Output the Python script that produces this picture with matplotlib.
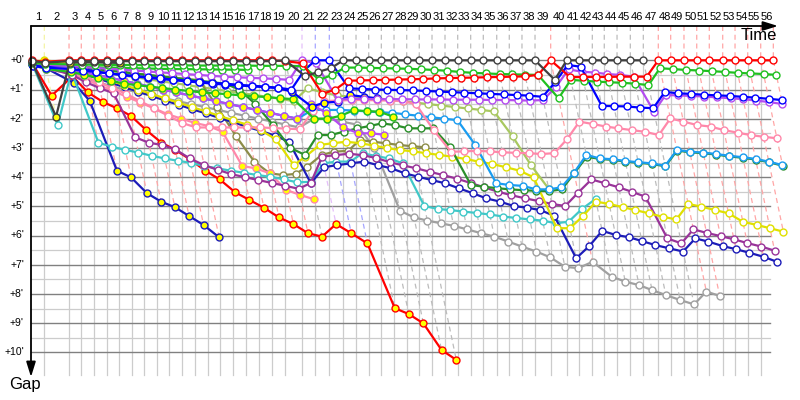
import matplotlib
matplotlib.use("Agg")
import matplotlib.pyplot as plt
from matplotlib.colors import to_rgb

# leader cumulative race time (minutes) at each lap, lap 0 = start
leader_time = [0.00, 2.08, 6.15, 8.17, 10.26, 12.36, 14.43, 16.47, 18.55, 20.59,
               22.67, 24.81, 26.90, 28.99, 31.07, 33.21, 35.35, 37.50, 39.59, 41.78,
               44.53, 46.72, 49.03, 51.33, 53.43, 55.52, 57.60, 59.69, 61.78, 63.85,
               65.95, 68.09, 70.18, 72.32, 74.40, 76.61, 78.68, 80.77, 82.92, 85.50,
               88.14, 90.21, 92.36, 94.33, 96.43, 98.62, 100.76, 103.23, 105.27, 107.46,
               109.56, 111.63, 113.84, 115.87, 117.96, 120.10, 122.18]
lap_labels = [str(i) for i in range(1, 57)]
gap_ticks = list(range(0, 11))

# gaps to leader (minutes), index = lap
red_1 = [0.00, 0.05] + [0.0] * 17 + [0.03, 0.10, 1.15, 1.00, 0.70, 0.69, 0.68, 0.67, 0.66, 0.65,
         0.64, 0.62, 0.61, 0.60, 0.59, 0.58, 0.57, 0.56, 0.55, 0.50, 0.00,
         0.58, 0.57, 0.57, 0.57, 0.56, 0.56, 0.56] + [0.0] * 10
dgray_1 = [0.02, 0.08] + [0.03] * 17 + [0.00, 0.55, 0.40, 0.27] + [0.0] * 16 + [0.67] + [0.0] * 7
dgray_2 = [0.05, 1.93, 0.08, 0.07, 0.07, 0.08, 0.09]
green_1 = [0.10, 0.12, 0.14, 0.15, 0.15, 0.16, 0.16, 0.16, 0.17, 0.17, 0.17, 0.17, 0.18, 0.18,
           0.18, 0.18, 0.18, 0.19, 0.19, 0.19, 0.20, 0.67, 0.50, 0.25, 0.25, 0.26, 0.27, 0.28,
           0.29, 0.31, 0.33, 0.36, 0.40, 0.43, 0.45, 0.47, 0.48, 0.49, 0.50, 1.30, 0.67, 0.70,
           0.73, 0.75, 0.77, 0.80, 0.85, 0.27, 0.30, 0.33, 0.35, 0.37, 0.40, 0.43, 0.45, 0.47, 0.50]
blue_1 = [0.20, 0.25, 0.30, 0.36, 0.40, 0.45, 0.50, 0.54, 0.58, 0.62, 0.66, 0.70, 0.73, 0.77,
          0.80, 0.84, 0.87, 0.90, 0.94, 1.00, 0.35, 0.00, 0.00, 0.96, 0.98, 1.00, 1.01, 1.02,
          1.03, 1.05, 1.07, 1.09, 1.11, 1.13, 1.15, 1.17, 1.19, 1.21, 1.25, 0.75, 0.16, 0.22,
          1.56, 1.57, 1.58, 1.62, 1.64, 1.08, 1.13, 1.15, 1.18, 1.20, 1.22, 1.25, 1.28, 1.32, 1.36]
violet_1 = [0.10, 0.15, 0.20, 0.23, 0.26, 0.29, 0.32, 0.35, 0.38, 0.41, 0.44, 0.47, 0.50, 0.53,
            0.56, 0.58, 0.60, 0.62, 0.64, 0.67, 0.00, 0.10, 1.35, 1.32, 1.32, 1.33, 1.33, 1.33,
            1.34, 1.34, 1.34, 1.35, 1.35, 1.35, 1.36, 1.36, 1.37, 1.38, 1.36, 0.90, 0.31, 0.39,
            0.42, 0.47, 0.50, 0.56, 1.76, 1.19, 1.20, 1.22, 1.24, 1.27, 1.30, 1.33, 1.38, 1.43, 1.50]
pink_1 = [0.10, 0.20, 0.35, 0.55, 0.75, 0.95, 1.15, 1.40, 1.65, 1.90, 2.15, 2.30, 2.30, 2.30,
          2.30, 2.30, 2.30, 2.32, 2.34, 2.36, 1.75, 1.40, 1.38, 1.36, 1.36, 1.37, 1.38, 1.40,
          1.50, 2.40, 3.13, 3.12, 3.10, 3.12, 3.15, 3.17, 3.18, 3.21, 3.18, 2.70, 2.10, 2.18,
          2.27, 2.33, 2.39, 2.45, 2.56, 1.99, 2.10, 2.22, 2.27, 2.39, 2.48, 2.56, 2.62, 2.67]
pink_2 = [0.15, 0.30, 0.45, 0.65, 0.85, 1.05, 1.25, 1.45, 1.65, 1.85, 2.00, 2.15, 2.25, 2.45,
          3.62, 3.70, 3.87, 4.44, 4.61, 4.76]
navy_2 = [0.16, 0.27, 0.77, 1.39, 3.78, 4.01, 4.55, 4.84, 5.03, 5.33, 5.64, 6.06]
red_2 = [0.10, 1.21, 0.55, 1.10, 1.42, 1.64, 1.90, 2.39, 2.82, 3.07, 3.39, 3.78, 4.08, 4.52,
         4.78, 5.05, 5.38, 5.61, 5.92, 6.04, 5.61, 5.92, 6.27, 8.49, 8.69, 9.01, 9.92, 10.26]
cyan_1 = [0.15, 2.21, 0.39, 2.82, 2.96, 3.07, 3.16, 3.27, 3.36, 3.44, 3.51, 3.62, 3.70, 3.78,
          3.85, 3.93, 3.99, 4.08, 4.18, 4.16, 3.53, 3.47, 3.47, 3.18, 3.28, 3.36, 3.53, 4.99,
          5.09, 5.13, 5.18, 5.23, 5.28, 5.35, 5.40, 5.45, 5.49, 5.58, 5.53, 5.10, 4.75]
navy_1 = [0.12, 0.20, 0.33, 0.48, 0.62, 0.78, 0.92, 1.08, 1.22, 1.38, 1.52, 1.68, 1.82, 1.98,
          2.12, 2.28, 2.42, 2.58, 2.79, 4.21, 3.66, 3.59, 3.53, 3.47, 3.59, 3.70, 3.87, 3.99,
          4.10, 4.21, 4.38, 4.55, 4.73, 4.84, 4.99, 5.05, 5.13, 5.33, 6.78, 6.36, 5.84, 5.98,
          6.06, 6.19, 6.33, 6.44, 6.55, 6.10, 6.21, 6.36, 6.47, 6.59, 6.73, 6.90]
purple_1 = [0.14, 0.25, 0.50, 0.75, 0.95, 1.13, 2.64, 2.82, 2.90, 3.05, 3.36, 3.59, 3.75, 3.90,
            4.00, 4.10, 4.20, 4.30, 4.40, 4.20, 3.30, 3.25, 3.20, 3.25, 3.35, 3.49, 3.60, 3.70,
            3.82, 3.93, 4.05, 4.20, 4.35, 4.50, 4.62, 4.73, 4.82, 4.92, 4.99, 4.53, 4.08, 4.21,
            4.35, 4.50, 4.67, 6.10, 6.27, 5.79, 5.91, 6.02, 6.13, 6.26, 6.38, 6.52]
gray_1 = [0.18, 0.30, 0.45, 0.60, 0.75, 0.90, 1.00, 1.10, 1.20, 1.30, 1.40, 1.50, 1.60, 1.70,
          1.80, 1.90, 2.00, 2.10, 2.20, 2.30, 2.00, 2.00, 2.10, 2.20, 3.00, 5.15, 5.38, 5.49,
          5.58, 5.67, 5.79, 5.92, 6.04, 6.21, 6.38, 6.55, 6.75, 7.07, 7.12, 6.90, 7.41, 7.58,
          7.70, 7.87, 8.04, 8.21, 8.36, 7.92, 8.07]
yellow_1 = [0.08, 0.12, 0.25, 0.40, 0.55, 0.70, 0.85, 1.00, 1.15, 1.30, 1.45, 1.60, 1.75, 1.90,
            2.05, 2.20, 2.40, 2.70, 3.59, 3.30, 2.90, 2.84, 2.79, 2.84, 2.92, 3.01, 3.07, 3.12,
            3.18, 3.24, 3.30, 3.38, 3.47, 3.55, 3.66, 3.78, 4.01, 5.75, 5.75, 5.33, 4.84, 4.92,
            5.03, 5.13, 5.24, 5.36, 5.45, 4.92, 5.01, 5.13, 5.24, 5.53, 5.64, 5.75, 5.87]
olive_1 = [0.10, 0.15, 0.20, 0.25, 0.30, 0.35, 0.40, 0.45, 0.50, 0.55, 0.60, 0.64, 0.68, 1.60,
           2.60, 3.47, 3.87, 3.93, 3.89, 3.64, 3.24, 3.13, 3.10, 2.73, 2.79, 2.84, 2.90, 2.94, 2.98]
dblue_1 = [0.10, 0.20, 0.30, 0.40, 0.50, 0.60, 0.70, 0.80, 0.90, 1.00, 1.10, 1.20, 1.30, 1.40,
           1.50, 1.60, 1.70, 1.80, 1.90, 2.00, 1.70, 1.70, 1.70, 1.72, 1.75, 1.78, 1.80, 1.85,
           1.90, 1.95, 2.00, 2.05, 2.90, 4.21, 4.27, 4.30, 4.42, 4.42, 4.35, 3.85, 3.24, 3.36,
           3.39, 3.45, 3.49, 3.53, 3.61, 3.07, 3.13, 3.16, 3.21, 3.27, 3.32, 3.38, 3.47, 3.59]
fgreen_1 = [0.10, 0.15, 0.20, 0.25, 0.30, 0.35, 0.40, 0.45, 0.50, 0.55, 0.60, 0.65, 0.70, 0.75,
            0.80, 1.00, 1.50, 2.20, 3.00, 3.24, 2.56, 2.56, 2.44, 2.33, 2.25, 2.16, 2.22, 2.33,
            2.33, 2.33, 2.96, 4.27, 4.33, 4.38, 4.42, 4.45, 4.47, 4.48, 4.42, 3.87, 3.30, 3.38,
            3.41, 3.47, 3.51, 3.55, 3.63, 3.09, 3.15, 3.18, 3.23, 3.29, 3.34, 3.40, 3.49, 3.61]
ygreen_1 = [0.12, 0.18, 0.25, 0.32, 0.38, 0.45, 0.52, 0.58, 0.65, 0.72, 0.78, 0.85, 0.92, 0.98,
            1.05, 1.12, 1.18, 1.25, 1.32, 1.40, 0.95, 1.10, 1.20, 1.25, 1.27, 1.30, 1.35, 1.40,
            1.45, 1.50, 1.55, 1.60, 1.65, 1.70, 1.75, 2.60, 3.60, 4.40]
blue_2 = [0.12, 0.20, 0.15, 0.30, 0.39, 0.45, 0.50, 0.55, 0.60, 0.64, 0.68, 0.72, 0.76, 0.80,
          0.83, 0.86, 0.89, 0.92, 0.95, 1.07, 1.59, 1.45, 1.42, 1.19, 1.25, 1.30]
green_2 = [0.12, 0.30, 0.40, 0.50, 0.60, 0.70, 0.80, 0.85, 0.90, 0.95, 1.00, 1.05, 1.10, 1.13,
           1.16, 1.20, 1.23, 1.26, 1.30, 1.33, 2.00, 2.00, 1.90, 1.71, 1.74, 1.76, 1.93]
violet_2 = [0.10, 0.20, 0.30, 0.40, 0.50, 0.60, 0.70, 0.80, 0.90, 1.00, 1.10, 1.20, 1.30, 1.40,
            1.50, 1.60, 1.70, 1.80, 1.90, 2.00, 1.50, 1.80, 2.30, 2.50, 2.50, 2.55]
green_3 = [0.12, 0.15, 0.20, 0.22, 0.24, 0.25, 0.26, 0.27, 0.28, 0.29, 0.30, 0.30, 0.31, 0.31,
           0.32, 0.32, 0.33]
yellow_2 = [0.05, 0.00, 0.10, 0.20, 0.30, 0.40]

# (data, line colour, marker face)
series = [
    (gray_1, '#a0a0a0', 'white'), (ygreen_1, '#a8c860', 'white'), (olive_1, '#8c8c48', 'white'),
    (yellow_2, '#e0e000', '#ffff00'),
    (red_2, '#ff0000', '#ffff00'), (navy_2, '#1c1cb8', '#ffff00'), (pink_2, '#ff88aa', '#ffff00'),
    (cyan_1, '#40c8c8', 'white'), (navy_1, '#1c1cb8', 'white'), (purple_1, '#993399', 'white'),
    (yellow_1, '#e0e000', 'white'), (fgreen_1, '#2a8f2a', 'white'), (dblue_1, '#1a9cf0', 'white'),
    (pink_1, '#ff88aa', 'white'), (green_3, '#20c020', 'white'), (violet_2, '#b44cf0', '#ffff00'),
    (green_2, '#20c020', '#ffff00'), (blue_2, '#0000ff', '#ffff00'),
    (violet_1, '#b44cf0', 'white'), (blue_1, '#0000ff', 'white'), (green_1, '#20c020', 'white'),
    (dgray_2, '#404040', '#ffff00'),
    (red_1, '#ff0000', 'white'), (dgray_1, '#404040', 'white'),
]

FONT = 'Liberation Sans'

# pixel mapping: x_px = 31.7 + 6.07*t ; y_px = 60.3 + 29.2*g
fig = plt.figure(figsize=(8, 4), dpi=100)
ax = fig.add_axes([0, 0, 1, 1])
ax.set_xlim(-31.7 / 6.07, (800 - 31.7) / 6.07)
ax.set_ylim((400 - 60.3) / 29.2, -60.3 / 29.2)
ax.axis('off')

g_top = (26 - 60.3) / 29.2
g_bot = (375 - 60.3) / 29.2
t_axis = (31 - 31.7) / 6.07
t_right = (770 - 31.7) / 6.07

# grid
for g in gap_ticks:
    ax.plot([t_axis, t_right], [g, g], color='#808080', lw=1.0, zorder=1)
    if g < 10:
        ax.plot([t_axis, t_right], [g + 0.5, g + 0.5], color='#cccccc', lw=0.9, zorder=0.5)
for t in leader_time[1:-1]:
    ax.plot([t, t], [0, g_bot], color='#cccccc', lw=0.9, zorder=0.5)

# lap lines
def light(c, f=0.35):
    r, g, b = to_rgb(c)
    return (1 - f * (1 - r), 1 - f * (1 - g), 1 - f * (1 - b))

for n in range(1, len(leader_time)):
    pts = []
    for data, col, face in series:
        if n < len(data):
            pts.append((data[n], col))
    pts.sort(key=lambda p: p[0])
    lc = light(pts[0][1])
    xs = [leader_time[n], leader_time[n]] + [leader_time[n] + p[0] for p in pts]
    ys = [g_top, 0] + [p[0] for p in pts]
    ax.plot(xs, ys, color=lc, lw=0.9, dashes=(4, 3), zorder=2)

# series
for i, (data, col, face) in enumerate(series):
    xs = [leader_time[n] + data[n] for n in range(len(data))]
    ax.plot(xs, data, color=col, lw=1.6, marker='o', ms=5, mfc=face, mec=col, mew=1.0,
            zorder=3 + i * 0.01)

# axes arrows
ax.annotate('', xy=((778 - 31.7) / 6.07, g_top), xytext=(t_axis, g_top),
            arrowprops=dict(arrowstyle='-|>,head_length=0.9,head_width=0.28', color='black',
                            lw=1.3, shrinkA=0, shrinkB=0), zorder=5)
ax.annotate('', xy=(t_axis, (377 - 60.3) / 29.2), xytext=(t_axis, g_top),
            arrowprops=dict(arrowstyle='-|>,head_length=0.9,head_width=0.28', color='black',
                            lw=1.3, shrinkA=0, shrinkB=0), zorder=5)

for i, lab in enumerate(lap_labels):
    xm = (leader_time[i] + leader_time[i + 1]) / 2
    ax.text(xm, (17.5 - 60.3) / 29.2, lab, ha='center', va='center', fontsize=8,
            family=FONT)
for g in gap_ticks:
    ax.text((24 - 31.7) / 6.07, g, "+%d'" % g, ha='right', va='center', fontsize=7.5,
            family=FONT)
ax.text((777 - 31.7) / 6.07, (36 - 60.3) / 29.2, 'Time', ha='right', va='center',
        fontsize=12, family=FONT)
ax.text((25 - 31.7) / 6.07, (385 - 60.3) / 29.2, 'Gap', ha='center', va='center',
        fontsize=12, family=FONT)

fig.savefig('out.png', dpi=100)
